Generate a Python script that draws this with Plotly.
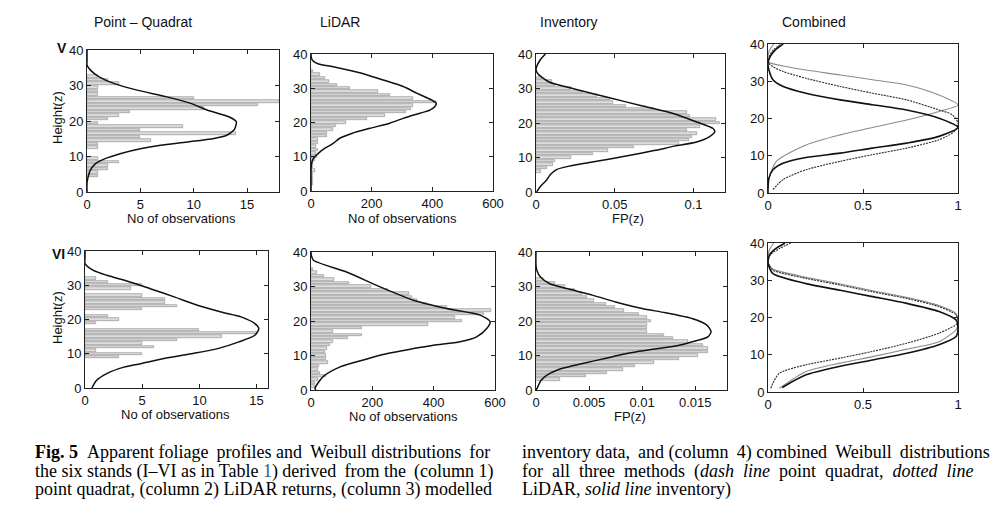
import plotly.graph_objects as go

W, H = 1004, 517

# ---------------- DATA ----------------
# Stand V, column 1: point quadrat
pq_v_height = [32.5, 31.5, 30.5, 29.5, 28.5, 27.5, 26.5, 25.5, 24.5, 23.5, 22.5, 21.5, 20.5, 19.5,
               18.5, 17.5, 16.5, 15.5, 14.5, 13.5, 12.5, 9.5, 8.5, 7.5, 6.5, 5.5, 4.5]
pq_v_count = [1, 2, 3, 1, 1, 1, 10, 18, 16, 11, 4, 3, 2, 1, 9, 5, 14, 5, 6, 1, 1, 1, 3, 2, 2, 1, 1]
pq_v_curve_h = [0, 2.4, 4.2, 6.1, 8, 9.4, 10.8, 12.2, 13.2, 14.1, 15.1, 16, 17.4, 18.2, 19.8,
                21.2, 23.1, 24.9, 26.8, 28.7, 30.6, 32.5, 34.4, 35.8, 37, 40]
pq_v_curve_x = [0, 0, 0.1, 0.3, 0.8, 1.7, 3.1, 5.0, 6.9, 9.4, 11.9, 13.1, 13.75, 13.9, 14.0,
                13.3, 11.25, 9.8, 7.5, 4.7, 2.5, 1.1, 0.3, 0, 0, 0]

# Stand V, column 2: LiDAR
lidar_v_height = list(range(35, 1, -1))
lidar_v_count = [8, 30, 46, 58, 87, 128, 222, 260, 335, 413, 337, 331, 313, 243, 185, 114, 84, 71,
                 52, 52, 24, 22, 16, 22, 16, 19, 13, 8, 7, 12, 5, 7, 7, 8]
lidar_v_curve_h = [0, 3, 6, 8.1, 9.5, 11, 12.5, 13.9, 15.4, 16.8, 18.3, 19.8, 21.2, 22.7, 23.6,
                   24.6, 25.6, 26.6, 28.5, 30.5, 32.4, 34.4, 36.3, 37.1, 38, 39, 40]
lidar_v_curve_x = [0, 0, 0, 2, 8, 24, 46, 73, 95, 134, 194, 260, 304, 359, 392, 408, 413, 397,
                   350, 304, 238, 167, 73, 25, 6, 1, 0]

# Stand V, column 3: inventory
inv_v_height = list(range(33, 5, -1))
inv_v_fp = [0.004, 0.010, 0.012, 0.022, 0.030, 0.039, 0.047, 0.049, 0.057, 0.075, 0.096, 0.098,
            0.114, 0.117, 0.104, 0.096, 0.102, 0.099, 0.097, 0.091, 0.062, 0.046, 0.036, 0.022,
            0.012, 0.011, 0.007, 0.003]
inv_v_curve_h = [0, 1.45, 3.4, 5, 6.5, 7.5, 8.5, 9.5, 10.5, 12, 13.3, 14.5, 16, 17.5, 18.4, 20.3,
                 22.7, 25, 27.4, 29.8, 31.8, 33.5, 34.5, 35.5, 37, 38.5, 40]
inv_v_curve_x = [0.0004, 0.0025, 0.0066, 0.009, 0.013, 0.021, 0.033, 0.046, 0.058, 0.075, 0.088,
                 0.102, 0.110, 0.1135, 0.1124, 0.102, 0.0876, 0.067, 0.046, 0.025, 0.0087, 0.003,
                 0.0008, 0.0, 0.001, 0.003, 0.006]

# Stand V, column 4: combined (normalised)
comb_v_solid_h = [0, 1.0, 4.0, 6.25, 8.0, 9.55, 10.7, 12.05, 13.4, 15.2, 17.6, 20.1, 22.3, 23.7, 25.0,
                  26.8, 28.6, 30.4, 33.0, 34.8, 36.5, 38.5, 40]
comb_v_solid_x = [0, 0, 0.005, 0.026, 0.079, 0.2, 0.38, 0.55, 0.73, 0.9, 1.0, 0.9, 0.73, 0.55, 0.38,
                  0.2, 0.08, 0.026, 0.005, 0, 0.01, 0.04, 0.08]
comb_v_dash_h = [0.9, 3.6, 6.25, 8.5, 10.3, 12.05, 14.3, 16.5, 18.8, 21.0, 22.3, 25.0, 26.8, 28.6,
                 30.8, 32.6, 33.9, 34.8, 36, 38.5, 40]
comb_v_dash_x = [0.026, 0.079, 0.2, 0.38, 0.55, 0.73, 0.9, 0.98, 1.0, 0.97, 0.9, 0.73, 0.55, 0.38,
                 0.2, 0.08, 0.026, 0.005, 0.0, 0.03, 0.07]
comb_v_dot_h = [3.1, 8.5, 12.9, 15.6, 17.6, 19.6, 21.9, 23.6, 26.3, 29.0, 30.4, 31.7, 33.0, 34.1,
                34.8, 35.3, 38, 40]
comb_v_dot_x = [0, 0.044, 0.2, 0.38, 0.55, 0.73, 0.9, 1.0, 0.9, 0.73, 0.55, 0.38, 0.2, 0.08, 0.02,
                0, 0.005, 0.03]

# Stand VI, column 1: point quadrat
pq_vi_height = [32, 31, 30, 29, 27, 26, 25, 24, 23, 21, 20, 19, 17, 16, 15, 14, 13, 12, 11, 10, 9]
pq_vi_count = [1, 2, 5, 4, 5, 7, 7, 8, 5, 2, 3, 1, 10, 15, 12, 8, 5, 6, 1, 5, 3]
pq_vi_curve_h = [0, 2.2, 4.2, 6.1, 7.1, 8.6, 10, 11.5, 13.4, 15.4, 17.3, 18.8, 20.7, 22.2, 24.1,
                 26.6, 29, 30.9, 32.9, 34.4, 36.3, 38, 40]
pq_vi_curve_x = [0.6, 1.0, 1.9, 3.4, 4.85, 6.9, 9.3, 11.6, 13.4, 14.85, 15.2, 14.85, 13.7, 11.9,
                 9.9, 7.8, 5.7, 4.0, 1.9, 0.7, 0, 0, 0]

# Stand VI, column 2: LiDAR
lidar_vi_height = list(range(35, 0, -1))
lidar_vi_count = [8, 18, 43, 76, 125, 195, 250, 320, 330, 345, 378, 442, 586, 564, 470, 491, 383,
                  165, 73, 165, 122, 73, 62, 52, 45, 50, 50, 54, 27, 24, 30, 50, 24, 13, 13]
lidar_vi_curve_h = [0, 0.5, 3.9, 6.7, 8.7, 10.1, 12, 13, 14, 15.4, 17.8, 19.8, 21.7, 23.6, 26,
                    29.9, 34.2, 37.6, 39, 40]
lidar_vi_curve_x = [16, 13, 40, 95, 171, 225, 334, 399, 486, 540, 573, 584, 551, 442, 334, 225,
                    116, 8, 1, 0]

# Stand VI, column 3: inventory
inv_vi_height = list(range(32, 2, -1))
inv_vi_fp = [0.0007, 0.0018, 0.0027, 0.0037, 0.0043, 0.0048, 0.0055, 0.0066, 0.0074, 0.0083,
             0.0097, 0.0105, 0.0108, 0.0105, 0.0105, 0.0105, 0.0121, 0.0129, 0.0143, 0.0157,
             0.0162, 0.0162, 0.0153, 0.0135, 0.0111, 0.0093, 0.0082, 0.0067, 0.0047, 0.0023]
inv_vi_curve_h = [0, 0.5, 2.9, 4.8, 6.3, 7.7, 9.2, 10.2, 11.1, 12, 13, 14.2, 15.4, 16.9, 18.8, 20.7,
                  22.4, 23.6, 25.5, 27.5, 29.4, 30.8, 32.8, 34.5, 36.1, 40]
inv_vi_curve_x = [0, 0.0001, 0.0005, 0.0013, 0.0025, 0.0044, 0.0066, 0.0080, 0.0095, 0.0115,
                  0.0135, 0.0150, 0.0162, 0.0165, 0.0161, 0.0147, 0.0122, 0.0100, 0.0075, 0.0053,
                  0.0029, 0.0013, 0.0004, 0.0001, 0, 0]

# Stand VI, column 4: combined (normalised)
comb_vi_solid_h = [1.2, 4.6, 6.9, 8.6, 10.4, 12.7, 14.9, 17.0, 19.3, 21.6, 23.8, 25.6, 27.3, 29.1,
                   31.8, 34.0, 35.2, 37, 38.5, 40]
comb_vi_solid_x = [0.075, 0.2, 0.38, 0.55, 0.73, 0.9, 0.99, 1.0, 0.99, 0.9, 0.73, 0.55, 0.38, 0.2,
                   0.026, 0.003, 0.0, 0.01, 0.04, 0.09]
comb_vi_dash_h = [1.0, 2.4, 5.1, 7.3, 9.1, 10.9, 13.1, 15.8, 18.6, 20.7, 22.9, 25.1, 26.9, 28.7,
                  30.5, 32.7, 34.2, 35.2, 37, 38.5, 40]
comb_vi_dash_x = [0.015, 0.026, 0.061, 0.2, 0.38, 0.55, 0.73, 0.9, 1.0, 0.99, 0.9, 0.73, 0.55,
                  0.38, 0.2, 0.026, 0.004, 0.0, 0.015, 0.06, 0.12]
comb_vi_dot_h = [1.0, 5.5, 7.75, 9.5, 11.5, 13.5, 16.7, 18.2, 21.0, 23.2, 25.4, 27.2, 29.0, 30.8,
                 33.0, 34.4, 35.3, 38, 40]
comb_vi_dot_x = [0.06, 0.2, 0.38, 0.55, 0.73, 0.9, 0.99, 1.0, 0.99, 0.9, 0.73, 0.55, 0.38, 0.2,
                 0.026, 0.004, 0.0, 0.006, 0.03]

column_titles = ["Point \u2013 Quadrat", "LiDAR", "Inventory", "Combined"]
row_labels = ["V", "VI"]

# ---------------- LAYOUT ----------------
# panel boxes in page pixels: (left, right, top, bottom)
boxes = [
    (87, 279, 50, 192), (311, 493, 54, 191), (536, 725, 54, 192), (768, 958, 44, 193),
    (85, 268, 251, 388), (311, 495, 252, 390), (536, 727, 252, 390), (768, 958, 243, 392),
]
xranges = [[0, 18], [0, 600], [0, 0.12], [0, 1], [0, 16], [0, 600], [0, 0.018], [0, 1]]
xticks = [
    ([0, 5, 10, 15], ["0", "5", "10", "15"]),
    ([0, 200, 400, 600], ["0", "200", "400", "600"]),
    ([0, 0.05, 0.1], ["0", "0.05", "0.1"]),
    ([0, 0.5, 1], ["0", "0.5", "1"]),
    ([0, 5, 10, 15], ["0", "5", "10", "15"]),
    ([0, 200, 400, 600], ["0", "200", "400", "600"]),
    ([0, 0.005, 0.01, 0.015], ["0", "0.005", "0.01", "0.015"]),
    ([0, 0.5, 1], ["0", "0.5", "1"]),
]

fig = go.Figure()

BAR_FILL = "#dcdcdc"
BAR_LINE = "#848484"
tick_font = dict(family="Liberation Sans, Arial, sans-serif", size=13, color="#111")


def ax_names(i):
    return ("x" if i == 0 else f"x{i+1}"), ("y" if i == 0 else f"y{i+1}")


def add_hist(i, heights, values, ch, cx):
    xa, ya = ax_names(i)
    fig.add_trace(go.Bar(y=heights, x=values, orientation="h", width=0.7,
                         marker=dict(color=BAR_FILL, line=dict(color=BAR_LINE, width=0.6)),
                         xaxis=xa, yaxis=ya, showlegend=False, hoverinfo="skip"))
    fig.add_trace(go.Scatter(x=cx, y=ch, mode="lines",
                             line=dict(color="#111", width=1.5, shape="spline", smoothing=0.7),
                             xaxis=xa, yaxis=ya, showlegend=False, hoverinfo="skip"))


def add_combined(i, sh, sx, dh, dx, oh, ox):
    xa, ya = ax_names(i)
    fig.add_trace(go.Scatter(x=ox, y=oh, mode="lines",
                             line=dict(color="#8a8a8a", width=1.1, shape="spline", smoothing=0.7),
                             xaxis=xa, yaxis=ya, showlegend=False, hoverinfo="skip"))
    fig.add_trace(go.Scatter(x=dx, y=dh, mode="lines",
                             line=dict(color="#2a2a2a", width=1.1, dash="2px,1px", shape="spline", smoothing=0.7),
                             xaxis=xa, yaxis=ya, showlegend=False, hoverinfo="skip"))
    fig.add_trace(go.Scatter(x=sx, y=sh, mode="lines",
                             line=dict(color="#111", width=1.6, shape="spline", smoothing=0.7),
                             xaxis=xa, yaxis=ya, showlegend=False, hoverinfo="skip"))


add_hist(0, pq_v_height, pq_v_count, pq_v_curve_h, pq_v_curve_x)
add_hist(1, lidar_v_height, lidar_v_count, lidar_v_curve_h, lidar_v_curve_x)
add_hist(2, inv_v_height, inv_v_fp, inv_v_curve_h, inv_v_curve_x)
add_combined(3, comb_v_solid_h, comb_v_solid_x, comb_v_dash_h, comb_v_dash_x, comb_v_dot_h, comb_v_dot_x)
add_hist(4, pq_vi_height, pq_vi_count, pq_vi_curve_h, pq_vi_curve_x)
add_hist(5, lidar_vi_height, lidar_vi_count, lidar_vi_curve_h, lidar_vi_curve_x)
add_hist(6, inv_vi_height, inv_vi_fp, inv_vi_curve_h, inv_vi_curve_x)
add_combined(7, comb_vi_solid_h, comb_vi_solid_x, comb_vi_dash_h, comb_vi_dash_x, comb_vi_dot_h, comb_vi_dot_x)

layout = dict(width=W, height=H, margin=dict(l=0, r=0, t=0, b=0, pad=0, autoexpand=False),
              paper_bgcolor="white", plot_bgcolor="white", bargap=0, showlegend=False,
              template="none")

for i, (l, r, t, b) in enumerate(boxes):
    xa, ya = ax_names(i)
    xkey = "xaxis" if i == 0 else f"xaxis{i+1}"
    ykey = "yaxis" if i == 0 else f"yaxis{i+1}"
    common = dict(showline=True, linecolor="#222", linewidth=1, mirror="ticks", ticks="inside",
                  ticklen=4, tickcolor="#222", showgrid=False, zeroline=False, tickfont=tick_font,
                  fixedrange=True, automargin=False)
    layout[xkey] = dict(common, domain=[l / W, r / W], range=xranges[i], anchor=ya,
                        tickvals=xticks[i][0], ticktext=xticks[i][1])
    layout[ykey] = dict(common, domain=[1 - b / H, 1 - t / H], range=[0, 40], anchor=xa,
                        tickvals=[0, 10, 20, 30, 40], ticktext=["0", "10", "20", "30", "40"])

fig.update_layout(**layout)

ann = []


def px_ann(text, x, y, size=13, xanchor="center", family="Liberation Sans, Arial, sans-serif",
           angle=0, color="#111"):
    ann.append(dict(text=text, x=x / W, y=1 - y / H, xref="paper", yref="paper", showarrow=False,
                    xanchor=xanchor, yanchor="middle", textangle=angle,
                    font=dict(family=family, size=size, color=color)))


# column titles
for txt, xl in zip(column_titles, [92, 318, 538, 780]):
    px_ann(txt, xl, 22, size=14, xanchor="left")

# axis titles
for (x, y) in [(181, 218), (402, 218), (175, 414), (403, 416)]:
    px_ann("No of observations", x, y)
for (x, y) in [(628, 218), (630, 416)]:
    px_ann("FP(z)", x, y)
for (x, y) in [(57, 118), (57, 318)]:
    px_ann("Height(z)", x, y, angle=-90)

# stand labels
px_ann("<b>" + row_labels[0] + "</b>", 62, 48, size=14)
px_ann("<b>" + row_labels[1] + "</b>", 58, 254, size=14)

# caption (justified look approximated with extra thin / no-break spaces)
serif = "Liberation Serif, Times New Roman, serif"
TS = "\u2009"
NB = "\u00a0"
cap_left = [
    "<b>Fig. 5</b>" + NB + NB + "Apparent foliage " + TS + "profiles and " + TS + "Weibull distributions "
    + TS + "for",
    "the six stands (I\u2013VI as in Table <span style='color:#2b55a8'>1</span>) derived " + TS
    + "from the " + TS + "(column 1)",
    "point quadrat, (column 2) LiDAR returns, (column 3) modelled",
]
cap_right = [
    "inventory data, " + TS + "and (column " + TS + "4) combined " + TS + "Weibull " + TS + "distributions",
    "for " + NB + "all " + NB + "three " + NB + "methods " + NB + "(<i>dash " + NB + "line</i> " + NB
    + "point " + NB + "quadrat, " + NB + "<i>dotted " + NB + "line</i>",
    "LiDAR, <i>solid line</i> inventory)",
]
for k, line in enumerate(cap_left):
    px_ann(line, 33, 452 + 19 * k, size=18, xanchor="left", family=serif, color="#000")
for k, line in enumerate(cap_right):
    px_ann(line, 520, 452 + 19 * k, size=18, xanchor="left", family=serif, color="#000")

fig.update_layout(annotations=ann)

fig.write_html("out.html", config={"displayModeBar": False},
               post_script="document.body.style.margin='0px';")
